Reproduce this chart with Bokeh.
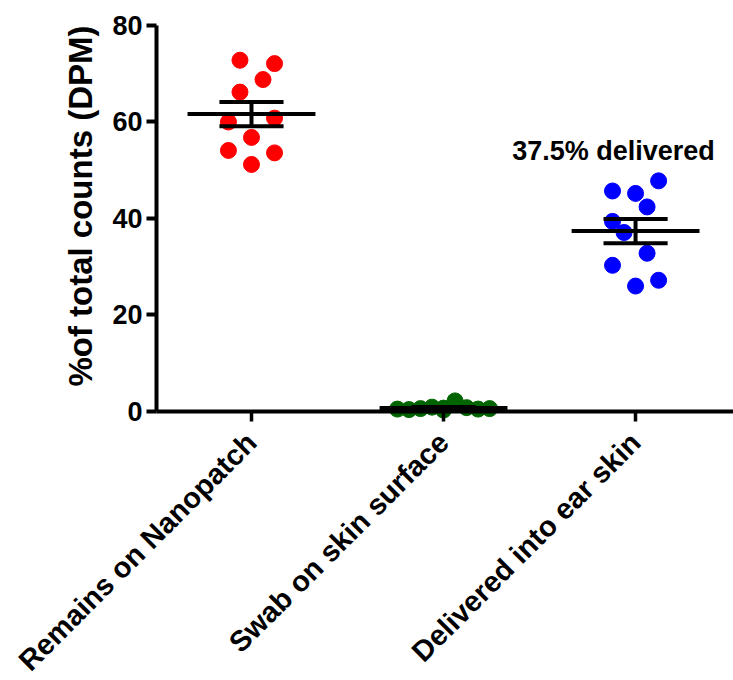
import math
import numpy as np
from bokeh.plotting import figure
from bokeh.models import Range1d, FixedTicker, Label, ColumnDataSource
from bokeh.embed import file_html
from bokeh.resources import INLINE

# ---- data ----
categories = ["Remains on Nanopatch", "Swab on skin surface", "Delivered into ear skin"]
colors = ["#FF0000", "#006400", "#0000FF"]

remains = [72.8, 72.1, 68.8, 66.2, 60.0, 60.8, 56.8, 54.1, 53.6, 51.2]
remains_slot = [-1, 2, 1, -1, -2, 2, 0, -2, 2, 0]

swab = [0.5, 0.4, 0.6, 0.9, 0.7, 2.2, 0.8, 0.5, 0.6, 0.3]
swab_slot = [-4, -3, -2, -1, 0, 1, 2, 3, 4, 0]

delivered = [47.8, 45.7, 45.2, 42.4, 39.4, 37.1, 32.8, 30.3, 27.2, 26.0]
delivered_slot = [2, -2, 0, 1, -2, -1, 1, -2, 2, 0]

y_ticks = [0, 20, 40, 60, 80]
y_label = "%of total counts (DPM)"
annotation_text = "37.5% delivered"

groups = [remains, swab, delivered]
slots = [remains_slot, swab_slot, delivered_slot]

FONT = "Liberation Sans"
STEP = 0.06
MEAN_HALF = 0.333
CAP_HALF = 0.167
Y_AXIS_X = 0.5052      # where the y axis crosses (x units)
X_END = 3.51

# the frame fills the whole canvas; axes are drawn at fixed locations inside it
p = figure(width=733, height=680, output_backend="svg", toolbar_location=None,
           x_range=Range1d(-0.307, X_END), y_range=Range1d(-55.75, 85.18),
           min_border=0, min_border_left=0, min_border_right=0,
           min_border_top=0, min_border_bottom=0)
p.title.visible = False
p.outline_line_color = None
p.xgrid.visible = False
p.ygrid.visible = False
p.background_fill_color = "white"
p.border_fill_color = "white"

# points
for i, (vals, sl, col) in enumerate(zip(groups, slots, colors)):
    pos = i + 1
    src = ColumnDataSource(dict(x=[pos + s * STEP for s in sl], y=vals))
    p.scatter("x", "y", source=src, size=16, fill_color=col, line_color=col)

# mean and SEM
means, sems, xs = [], [], []
for i, vals in enumerate(groups):
    arr = np.array(vals)
    means.append(arr.mean())
    sems.append(arr.std(ddof=1) / math.sqrt(len(arr)))
    xs.append(i + 1)
means = np.array(means); sems = np.array(sems); xs = np.array(xs, dtype=float)

seg_kw = dict(line_color="black", line_width=4, line_cap="butt")
p.segment(x0=xs - MEAN_HALF, x1=xs + MEAN_HALF, y0=means, y1=means, **seg_kw)
p.segment(x0=xs - CAP_HALF, x1=xs + CAP_HALF, y0=means + sems, y1=means + sems, **seg_kw)
p.segment(x0=xs - CAP_HALF, x1=xs + CAP_HALF, y0=means - sems, y1=means - sems, **seg_kw)
p.segment(x0=xs, x1=xs, y0=means - sems, y1=means + sems, **seg_kw)

# y axis
yax = p.yaxis[0]
yax.fixed_location = Y_AXIS_X
yax.ticker = FixedTicker(ticks=y_ticks)
yax.bounds = (0, 80)
yax.axis_line_width = 4
yax.major_tick_line_width = 4
yax.major_tick_in = 0
yax.major_tick_out = 10
yax.minor_tick_line_color = None
yax.major_label_text_font = FONT
yax.major_label_text_font_style = "bold"
yax.major_label_text_font_size = "27px"
yax.major_label_text_color = "black"
yax.major_label_standoff = 4

# y axis title, reading upwards, ending level with the top tick
p.add_layout(Label(x=0.109, y=80, text=y_label, angle=math.pi / 2,
                   text_align="right", text_baseline="middle",
                   text_font=FONT, text_font_style="bold", text_font_size="33px",
                   text_color="black"))

# x axis drawn at y = 0
xax = p.xaxis[0]
xax.fixed_location = 0
xax.bounds = (Y_AXIS_X, X_END)
xax.ticker = FixedTicker(ticks=[1, 2, 3])
xax.major_label_overrides = {i + 1: c for i, c in enumerate(categories)}
xax.axis_line_width = 4
xax.major_tick_line_width = 3.5
xax.major_tick_in = 0
xax.major_tick_out = 10
xax.minor_tick_line_color = None
xax.major_label_orientation = math.pi / 4
xax.major_label_text_font = FONT
xax.major_label_text_font_style = "bold"
xax.major_label_text_font_size = "29px"
xax.major_label_text_color = "black"
xax.major_label_standoff = 16

p.add_layout(Label(x=2.885, y=53.9, text=annotation_text, text_align="center",
                   text_baseline="alphabetic", text_font=FONT, text_font_style="bold",
                   text_font_size="27px", text_color="black"))

open("out.html", "w").write(file_html(p, INLINE))
